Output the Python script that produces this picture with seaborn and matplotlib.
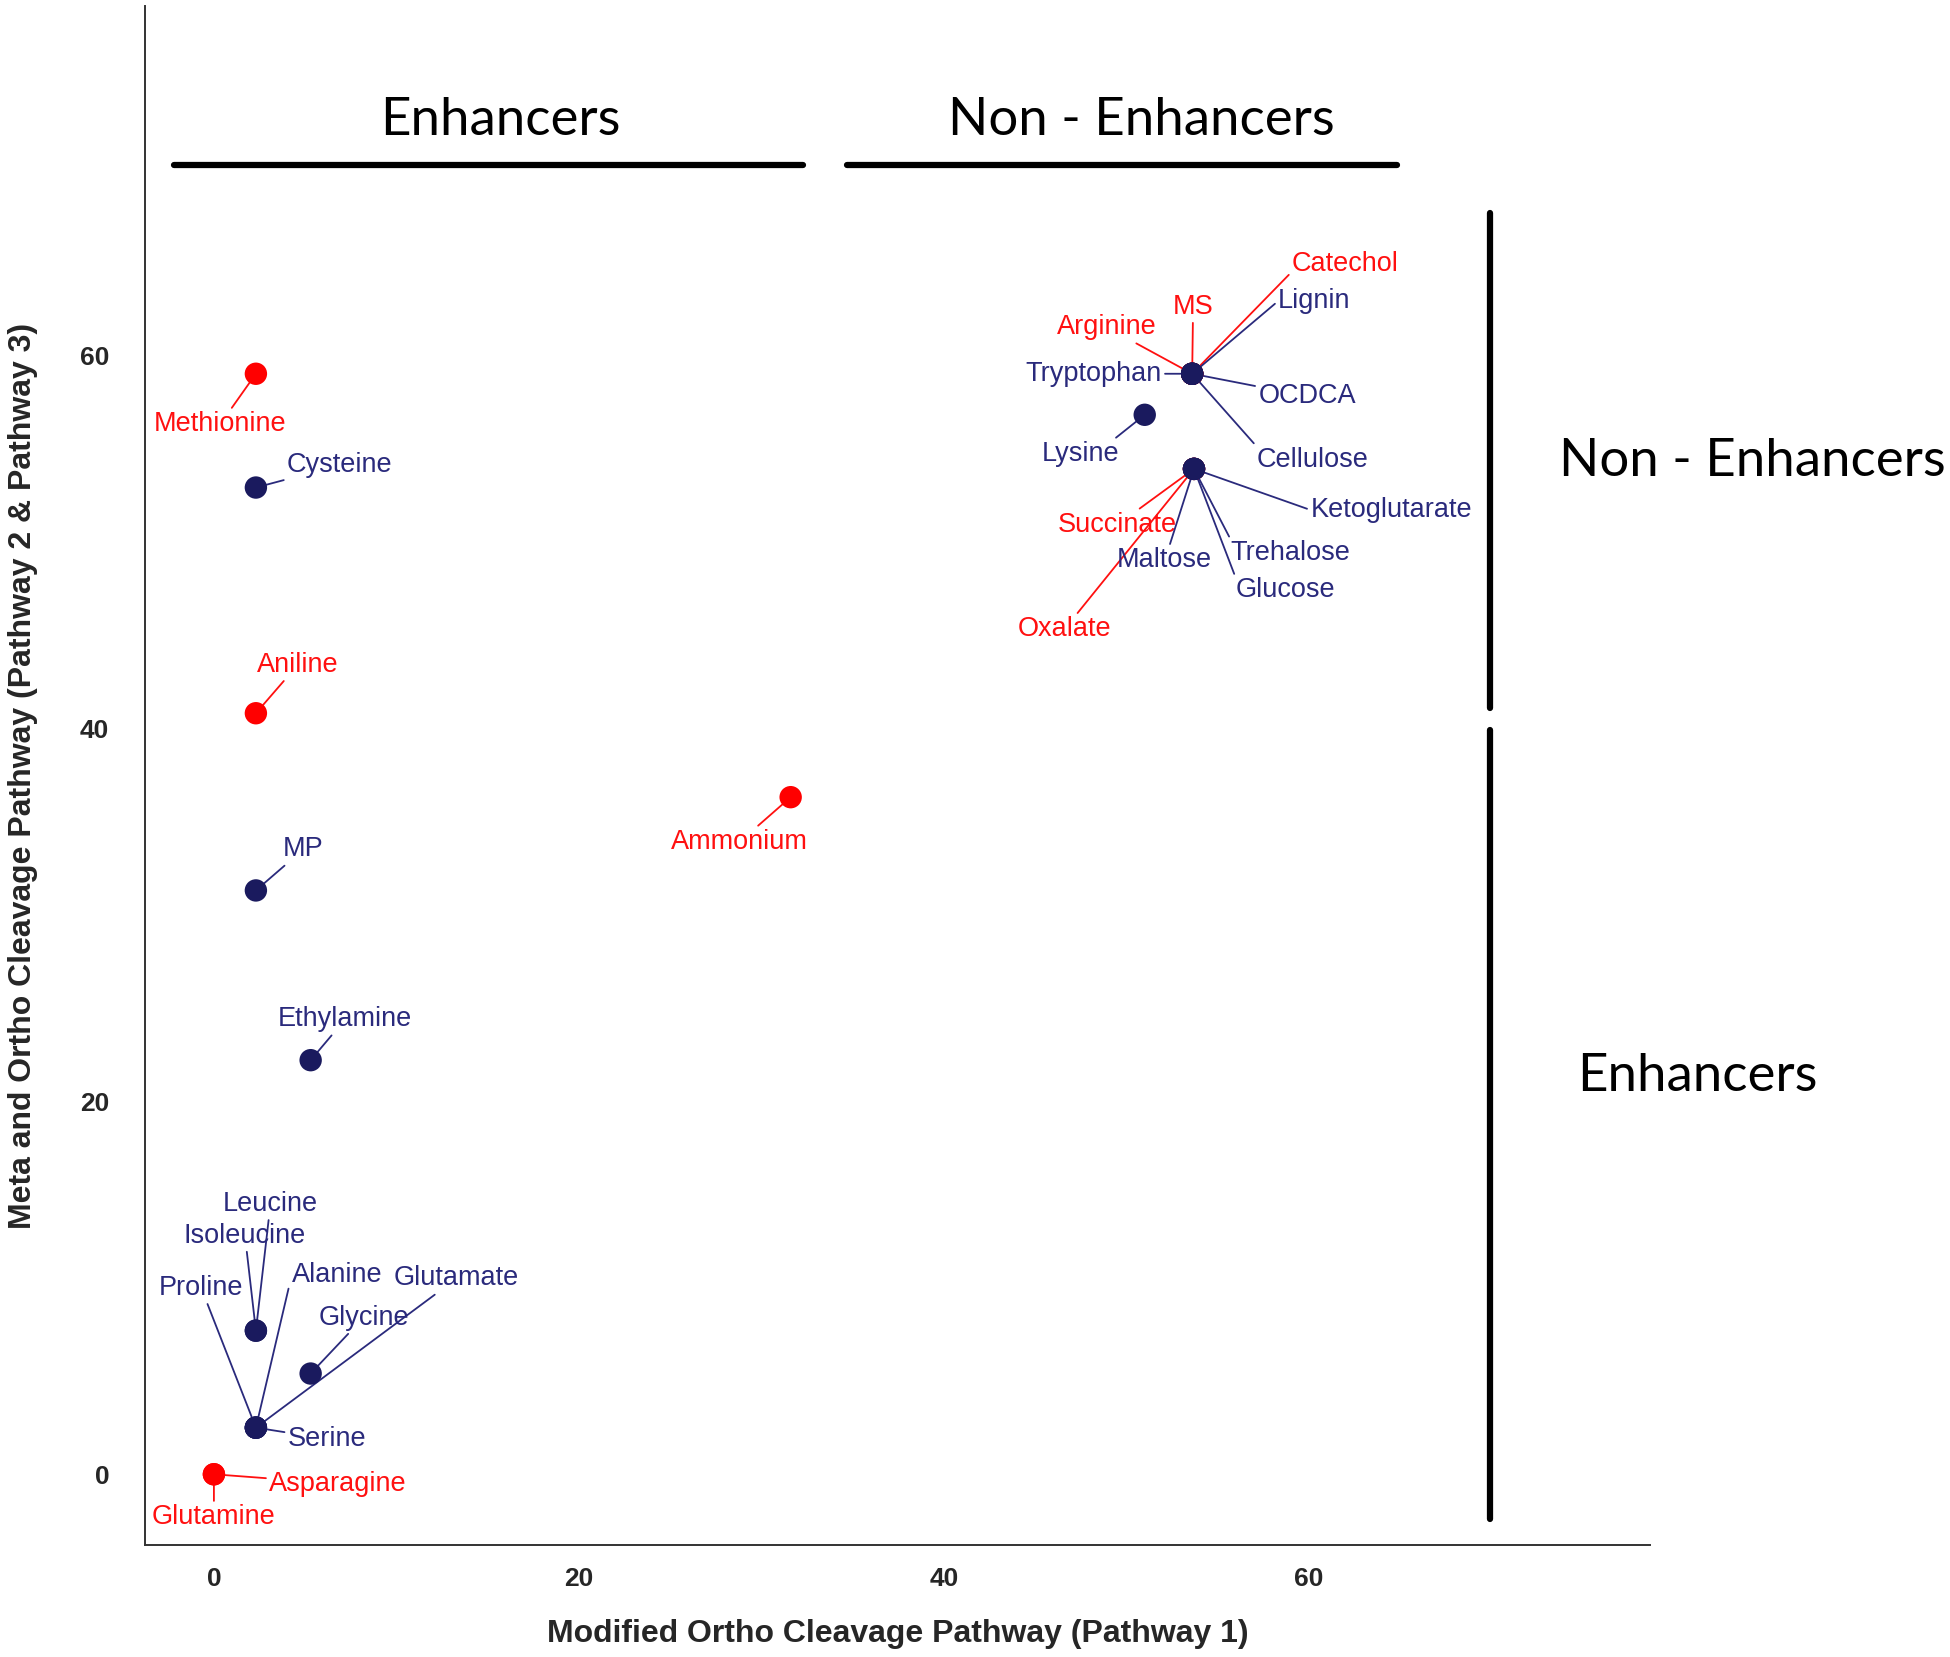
import pandas as pd
import matplotlib
matplotlib.use("Agg")
import matplotlib.pyplot as plt
import seaborn as sns

# compounds and their pathway scores
compounds = ["Asparagine", "Glutamine", "Methionine", "Aniline", "Ammonium",
             "Catechol", "MS", "Arginine", "Succinate", "Oxalate",
             "Cysteine", "MP", "Ethylamine", "Leucine", "Isoleucine",
             "Proline", "Alanine", "Serine", "Glutamate", "Glycine",
             "Tryptophan", "Lignin", "OCDCA", "Cellulose", "Lysine",
             "Ketoglutarate", "Maltose", "Trehalose", "Glucose"]
pathway1 = [0.0, 0.0, 2.3, 2.3, 31.6,
            53.6, 53.6, 53.6, 53.7, 53.7,
            2.3, 2.3, 5.3, 2.3, 2.3,
            2.3, 2.3, 2.3, 2.3, 5.3,
            53.6, 53.6, 53.6, 53.6, 51.0,
            53.7, 53.7, 53.7, 53.7]
pathway23 = [0.0, 0.0, 59.0, 40.8, 36.3,
             59.0, 59.0, 59.0, 53.9, 53.9,
             52.9, 31.3, 22.2, 7.7, 7.7,
             2.5, 2.5, 2.5, 2.5, 5.4,
             59.0, 59.0, 59.0, 59.0, 56.8,
             53.9, 53.9, 53.9, 53.9]
group = ["red"] * 10 + ["navy"] * 19

df = pd.DataFrame({"compound": compounds, "p1": pathway1, "p23": pathway23, "group": group})

# where each label sits (data coords) - hand placed like ggrepel did
label_pos = {
    "Methionine": (0.35, 56.3), "Cysteine": (6.9, 54.1), "Aniline": (4.6, 43.4),
    "MP": (4.9, 33.5), "Ethylamine": (7.2, 24.4), "Ammonium": (28.8, 33.9),
    "Leucine": (3.1, 14.5), "Isoleucine": (1.7, 12.8), "Proline": (-0.7, 10.0),
    "Alanine": (6.75, 10.7), "Glutamate": (13.3, 10.5), "Glycine": (8.2, 8.4),
    "Serine": (6.2, 1.9), "Asparagine": (6.8, -0.5), "Glutamine": (0.0, -2.3),
    "Catechol": (62.0, 64.9), "MS": (53.65, 62.6), "Lignin": (60.3, 62.9),
    "Arginine": (48.9, 61.5), "Tryptophan": (48.2, 59.0), "OCDCA": (59.9, 57.8),
    "Lysine": (47.5, 54.7), "Cellulose": (60.2, 54.4), "Ketoglutarate": (64.5, 51.7),
    "Succinate": (49.5, 50.9), "Trehalose": (59.0, 49.4), "Maltose": (52.1, 49.0),
    "Glucose": (58.7, 47.4), "Oxalate": (46.6, 45.3),
}
# which side of the label the leader line leaves from (default centre)
line_anchor = {"Lysine": (0.9, 1.0), "Trehalose": (0.0, 1.0), "Glucose": (0.0, 1.0),
               "Alanine": (0.0, 0.5), "Catechol": (0.0, 0.2), "Lignin": (0.0, 0.5),
               "Ketoglutarate": (0.0, 0.5), "Cellulose": (0.0, 1.0)}

dot_colors = {"red": "#ff0000", "navy": "#1a1a5e"}
text_colors = {"red": "#ff1010", "navy": "#2a2a7c"}

sns.set_style("white")
plt.rcParams["font.family"] = ["Liberation Sans", "DejaVu Sans"]

fig = plt.figure(figsize=(19.5, 16.57), dpi=100)
ax = fig.add_axes([0.0746, 0.0675, 0.7717, 0.9287])

sns.scatterplot(data=df, x="p1", y="p23", hue="group", palette=dot_colors,
                s=260, linewidth=0, legend=False, ax=ax, zorder=5)

for name, x, y, g in zip(compounds, pathway1, pathway23, group):
    tx, ty = label_pos[name]
    ax.annotate(name, xy=(x, y), xytext=(tx, ty), color=text_colors[g],
                fontsize=19.5, ha="center", va="center", zorder=3,
                arrowprops=dict(arrowstyle="-", color=text_colors[g], lw=1.3,
                                shrinkA=0, shrinkB=3,
                                relpos=line_anchor.get(name, (0.5, 0.5))))

ax.set_xlim(-3.75, 78.7)
ax.set_ylim(-3.8, 78.7)
ax.set_xticks([0, 20, 40, 60])
ax.set_yticks([0, 20, 40, 60])
ax.tick_params(axis="both", length=6, width=1, color="#555555", direction="out")
ax.tick_params(axis="x", pad=10)
ax.tick_params(axis="y", pad=20)
for lab in ax.get_xticklabels() + ax.get_yticklabels():
    lab.set_fontweight("bold")
    lab.set_fontsize(19)
    lab.set_family(["Liberation Sans Narrow", "Liberation Sans"])
sns.despine(ax=ax)
for sp in ["left", "bottom"]:
    ax.spines[sp].set_color("#333333")
    ax.spines[sp].set_linewidth(1.4)

ax.set_xlabel("Modified Ortho Cleavage Pathway (Pathway 1)", fontsize=23,
              fontweight="bold", labelpad=20)
ax.set_ylabel("Meta and Ortho Cleavage Pathway (Pathway 2 & Pathway 3)", fontsize=23,
              fontweight="bold", labelpad=30)

# group brackets
hdr = dict(fontsize=38, family=["Lato", "DejaVu Sans"], color="black")
ax.plot([-2.2, 32.3], [70.2, 70.2], color="black", lw=4.5, clip_on=False)
ax.plot([34.7, 64.8], [70.2, 70.2], color="black", lw=4.5, clip_on=False)
ax.text(15.7, 72.6, "Enhancers", ha="center", va="center", **hdr)
ax.text(50.8, 72.6, "Non - Enhancers", ha="center", va="center", **hdr)
ax.plot([69.9, 69.9], [67.6, 41.1], color="black", lw=4.5, clip_on=False)
ax.plot([69.9, 69.9], [39.9, -2.4], color="black", lw=4.5, clip_on=False)
ax.text(73.7, 54.3, "Non - Enhancers", ha="left", va="center", clip_on=False, **hdr)
ax.text(74.7, 21.3, "Enhancers", ha="left", va="center", clip_on=False, **hdr)

fig.savefig("out.png", dpi=100)
